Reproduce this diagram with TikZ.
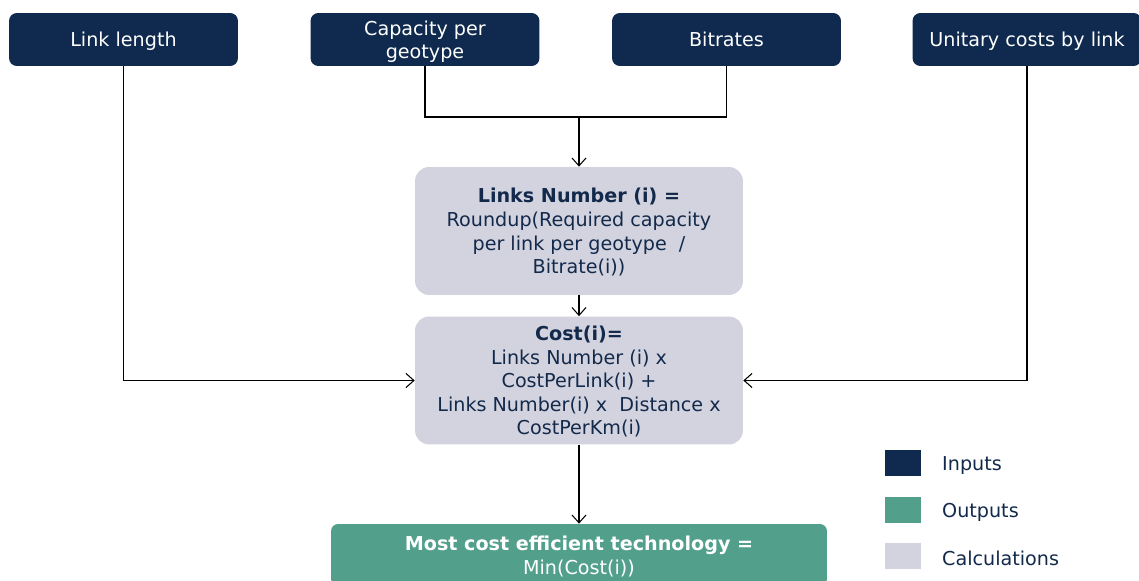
\documentclass[tikz,border=0pt]{standalone}
\usepackage{fontspec}
\setmainfont{DejaVu Sans}
\usetikzlibrary{arrows.meta}
\definecolor{navy}{HTML}{0F2A4E}
\definecolor{sea}{HTML}{52A08C}
\definecolor{mist}{HTML}{D2D3DE}
\definecolor{ink}{HTML}{13294B}
\tikzset{
  every node/.style={font=\fontsize{10.9}{13.4}\selectfont},
  inbox/.style={fill=navy, text=white, rounded corners=4.5pt, minimum width=4.58cm, minimum height=1.06cm, align=center, inner sep=0pt, text depth=0pt},
  calcbox/.style={fill=mist, text=ink, rounded corners=8pt, minimum width=6.56cm, minimum height=2.56cm, align=center, inner sep=0pt, text depth=0pt},
  outbox/.style={fill=sea, text=white, rounded corners=4pt, minimum width=9.92cm, minimum height=1.24cm, align=center, inner sep=0pt, text depth=0pt},
  keybox/.style={minimum width=0.72cm, minimum height=0.52cm, inner sep=0pt},
  link/.style={draw=black, line width=0.6pt},
  feed/.style={link, -{Straight Barb[length=4.5pt,width=8pt]}}
}
\newcommand{\keyentry}[4]{ \node[keybox, fill=#2] (#1sq) at (903, #3) {}; \node[anchor=west, text=ink] (#1) at (936, #3 + 2.5) {#4};}

\begin{document}
\begin{tikzpicture}[x=0.02cm, y=-0.02cm]
    \useasboundingbox (0,0) rectangle (1139,581);
    % inputs
    \node[inbox] (len) at (123.5,39.5) {Link length};
    \node[inbox] (cap) at (425,39.5) {Capacity per\\geotype};
    \node[inbox] (bit) at (726.5,39.5) {Bitrates};
    \node[inbox] (unit) at (1027,39.5) {Unitary costs by link};
    % calculations
    \node[calcbox] (links) at (579,231) {\textbf{Links Number (i) =}\\Roundup(Required capacity\\per link per geotype~~/\\Bitrate(i))};
    \node[calcbox] (cost) at (579,380.5) {\textbf{Cost(i)=}\\Links Number (i) x\\CostPerLink(i) +\\Links Number(i) x~~Distance x\\CostPerKm(i)};
    % output
    \node[outbox] (best) at (579,555) {\textbf{Most cost efficient technology =}\\Min(Cost(i))};
    % connectors
    \coordinate (junc) at (579,117);
    \draw[link] (cap.south) |- (junc) -| (bit.south);
    \draw[feed] (junc) -- (links.north);
    \draw[feed] (links.south) -- (cost.north);
    \draw[feed] (len.south) |- (cost.west);
    \draw[feed] (unit.south) |- (cost.east);
    \draw[feed] (cost.south) -- (best.north);
    % legend
    \keyentry{kin}{navy}{463}{Inputs}
    \keyentry{kout}{sea}{510}{Outputs}
    \keyentry{kcalc}{mist}{556}{Calculations}
\end{tikzpicture}
\end{document}
